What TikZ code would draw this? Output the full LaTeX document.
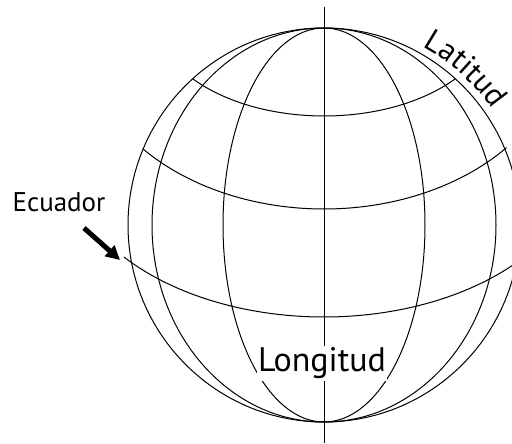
\documentclass[tikz,border=0pt]{standalone}
\usepackage{fontspec}
\setmainfont{PT Sans}
\usetikzlibrary{arrows.meta, positioning, decorations.text}

\begin{document}
\begin{tikzpicture}[x=1pt, y=1pt,
    globeline/.style={line width=1pt},
    labelfont/.style={font=\fontsize{34}{40}\selectfont}]
      \useasboundingbox (0,0) rectangle (512,444);
      % outline and meridians
      \draw[globeline] (324,219) circle[x radius=196, y radius=197];
      \draw[globeline] (324,219) ellipse[x radius=172, y radius=197];
      \draw[globeline] (324,219) ellipse[x radius=101, y radius=197];
      \draw[globeline] (324,437) -- (324,1);
      % parallels
      \draw[globeline] (324,430) ++(219.6:170 and 102)
        arc[start angle=219.6, end angle=320.4, x radius=170, y radius=102];
      \draw[globeline] (324,410) ++(221:240 and 175)
        arc[start angle=221, end angle=319.5, x radius=240, y radius=175];
      \draw[globeline] (324,293) ++(219.7:260 and 166)
        arc[start angle=219.7, end angle=322, x radius=260, y radius=166];
      % labels
      \node[labelfont, fill=white, inner sep=1.5pt, anchor=base] (longitud)
        at (322,72) {Longitud};
      \node[font=\fontsize{27}{32}\selectfont] (ecuador) at (59,242) {Ecuador};
      \coordinate (arrowtail) at (84,216);
      \coordinate (arrowtip) at (120,184);
      \draw[line width=5pt, -{Triangle[length=14pt, width=14pt]}]
        (arrowtail) -- (arrowtip);
      \path[decorate, decoration={text along path,
          text={|\fontsize{31}{36}\selectfont|Latitud}}]
        (324,219) ++(61:204) arc[start angle=61, end angle=15, radius=204];
    \end{tikzpicture}
\end{document}
